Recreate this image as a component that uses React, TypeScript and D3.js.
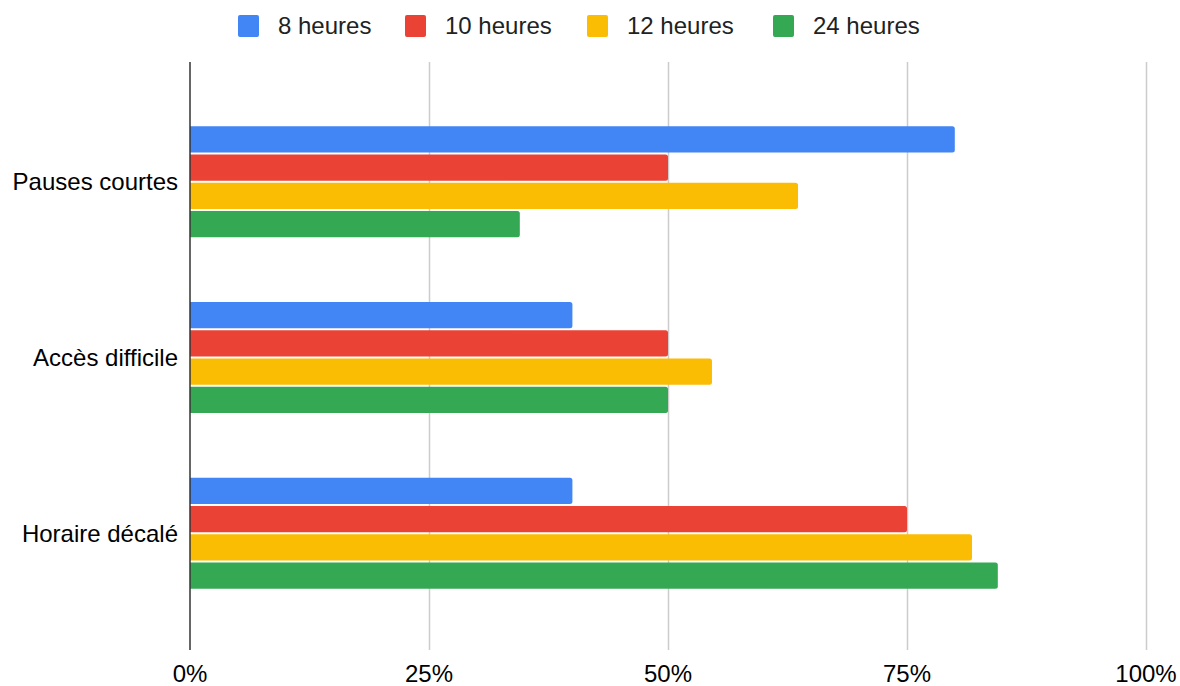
import React, { useEffect, useRef } from "react";
import * as d3 from "d3";

const categories = ["Pauses courtes", "Accès difficile", "Horaire décalé"];
const seriesNames = ["8 heures", "10 heures", "12 heures", "24 heures"];
const seriesColors = ["#4285F4", "#EA4335", "#FBBC04", "#34A853"];
// values per series, one per category (fractions)
const h8 = [0.80, 0.40, 0.40];
const h10 = [0.50, 0.50, 0.75];
const h12 = [0.636, 0.546, 0.818];
const h24 = [0.345, 0.50, 0.845];
const xTicks = [0, 0.25, 0.5, 0.75, 1];

const W = 1180;
const H = 686;
const FONT = "'Liberation Sans', Arial, sans-serif";

const App: React.FC = () => {
  const svgRef = useRef<SVGSVGElement | null>(null);

  useEffect(() => {
    if (!svgRef.current) return;
    const svg = d3.select(svgRef.current);
    svg.selectAll("*").remove();

    const values = [h8, h10, h12, h24];
    const plotTop = 62;
    const plotBottom = 650;

    const x = d3.scaleLinear().domain([0, 1]).range([190, 1146]);
    const y = d3
      .scaleBand<string>()
      .domain(categories)
      .range([94, 621])
      .paddingInner(0.368)
      .paddingOuter(0.184);
    const ySub = d3
      .scaleBand<string>()
      .domain(seriesNames)
      .range([0, y.bandwidth()])
      .paddingInner(0.07);

    // gridlines
    svg
      .append("g")
      .selectAll("line")
      .data(xTicks.filter((t) => t > 0))
      .enter()
      .append("line")
      .attr("x1", (d) => Math.round(x(d)) + 0.5)
      .attr("x2", (d) => Math.round(x(d)) + 0.5)
      .attr("y1", plotTop)
      .attr("y2", plotBottom)
      .attr("stroke", "#cccccc")
      .attr("stroke-width", 1.5);

    // bars with rounded right end
    const r = 2.5;
    const barPath = (x0: number, x1: number, y0: number, h: number) =>
      `M${x0},${y0}H${x1 - r}Q${x1},${y0} ${x1},${y0 + r}V${y0 + h - r}Q${x1},${y0 + h} ${x1 - r},${y0 + h}H${x0}Z`;

    seriesNames.forEach((name, si) => {
      svg
        .append("g")
        .selectAll("path")
        .data(categories.map((c, ci) => ({ c, v: values[si][ci] })))
        .enter()
        .append("path")
        .attr("d", (d) =>
          barPath(x(0), x(d.v), (y(d.c) ?? 0) + (ySub(name) ?? 0), ySub.bandwidth())
        )
        .attr("fill", seriesColors[si]);
    });

    // zero axis line
    svg
      .append("line")
      .attr("x1", x(0))
      .attr("x2", x(0))
      .attr("y1", plotTop)
      .attr("y2", plotBottom)
      .attr("stroke", "#333333")
      .attr("stroke-width", 1.5);

    // x tick labels
    svg
      .append("g")
      .selectAll("text")
      .data(xTicks)
      .enter()
      .append("text")
      .attr("x", (d) => x(d))
      .attr("y", 682)
      .attr("text-anchor", "middle")
      .style("font-family", FONT)
      .style("font-size", "24px")
      .attr("fill", "#000")
      .text((d) => d3.format(".0%")(d));

    // category labels
    svg
      .append("g")
      .selectAll("text")
      .data(categories)
      .enter()
      .append("text")
      .attr("x", 178)
      .attr("y", (d) => (y(d) ?? 0) + y.bandwidth() / 2)
      .attr("dy", "0.35em")
      .attr("text-anchor", "end")
      .style("font-family", FONT)
      .style("font-size", "24px")
      .attr("fill", "#000")
      .text((d) => d);

    // legend
    const legendX = [238, 405, 587, 773];
    const legend = svg.append("g");
    seriesNames.forEach((name, i) => {
      legend
        .append("rect")
        .attr("x", legendX[i])
        .attr("y", 15)
        .attr("width", 21)
        .attr("height", 22)
        .attr("rx", 2)
        .attr("fill", seriesColors[i]);
      legend
        .append("text")
        .attr("x", legendX[i] + 40)
        .attr("y", 26)
        .attr("dy", "0.35em")
        .style("font-family", FONT)
        .style("font-size", "24px")
        .attr("fill", "#222")
        .text(name);
    });
  }, []);

  return (
    <svg
      ref={svgRef}
      width={W}
      height={H}
      style={{ position: "absolute", left: 0, top: 0, background: "#fff" }}
    ></svg>
  );
};

export default App;
